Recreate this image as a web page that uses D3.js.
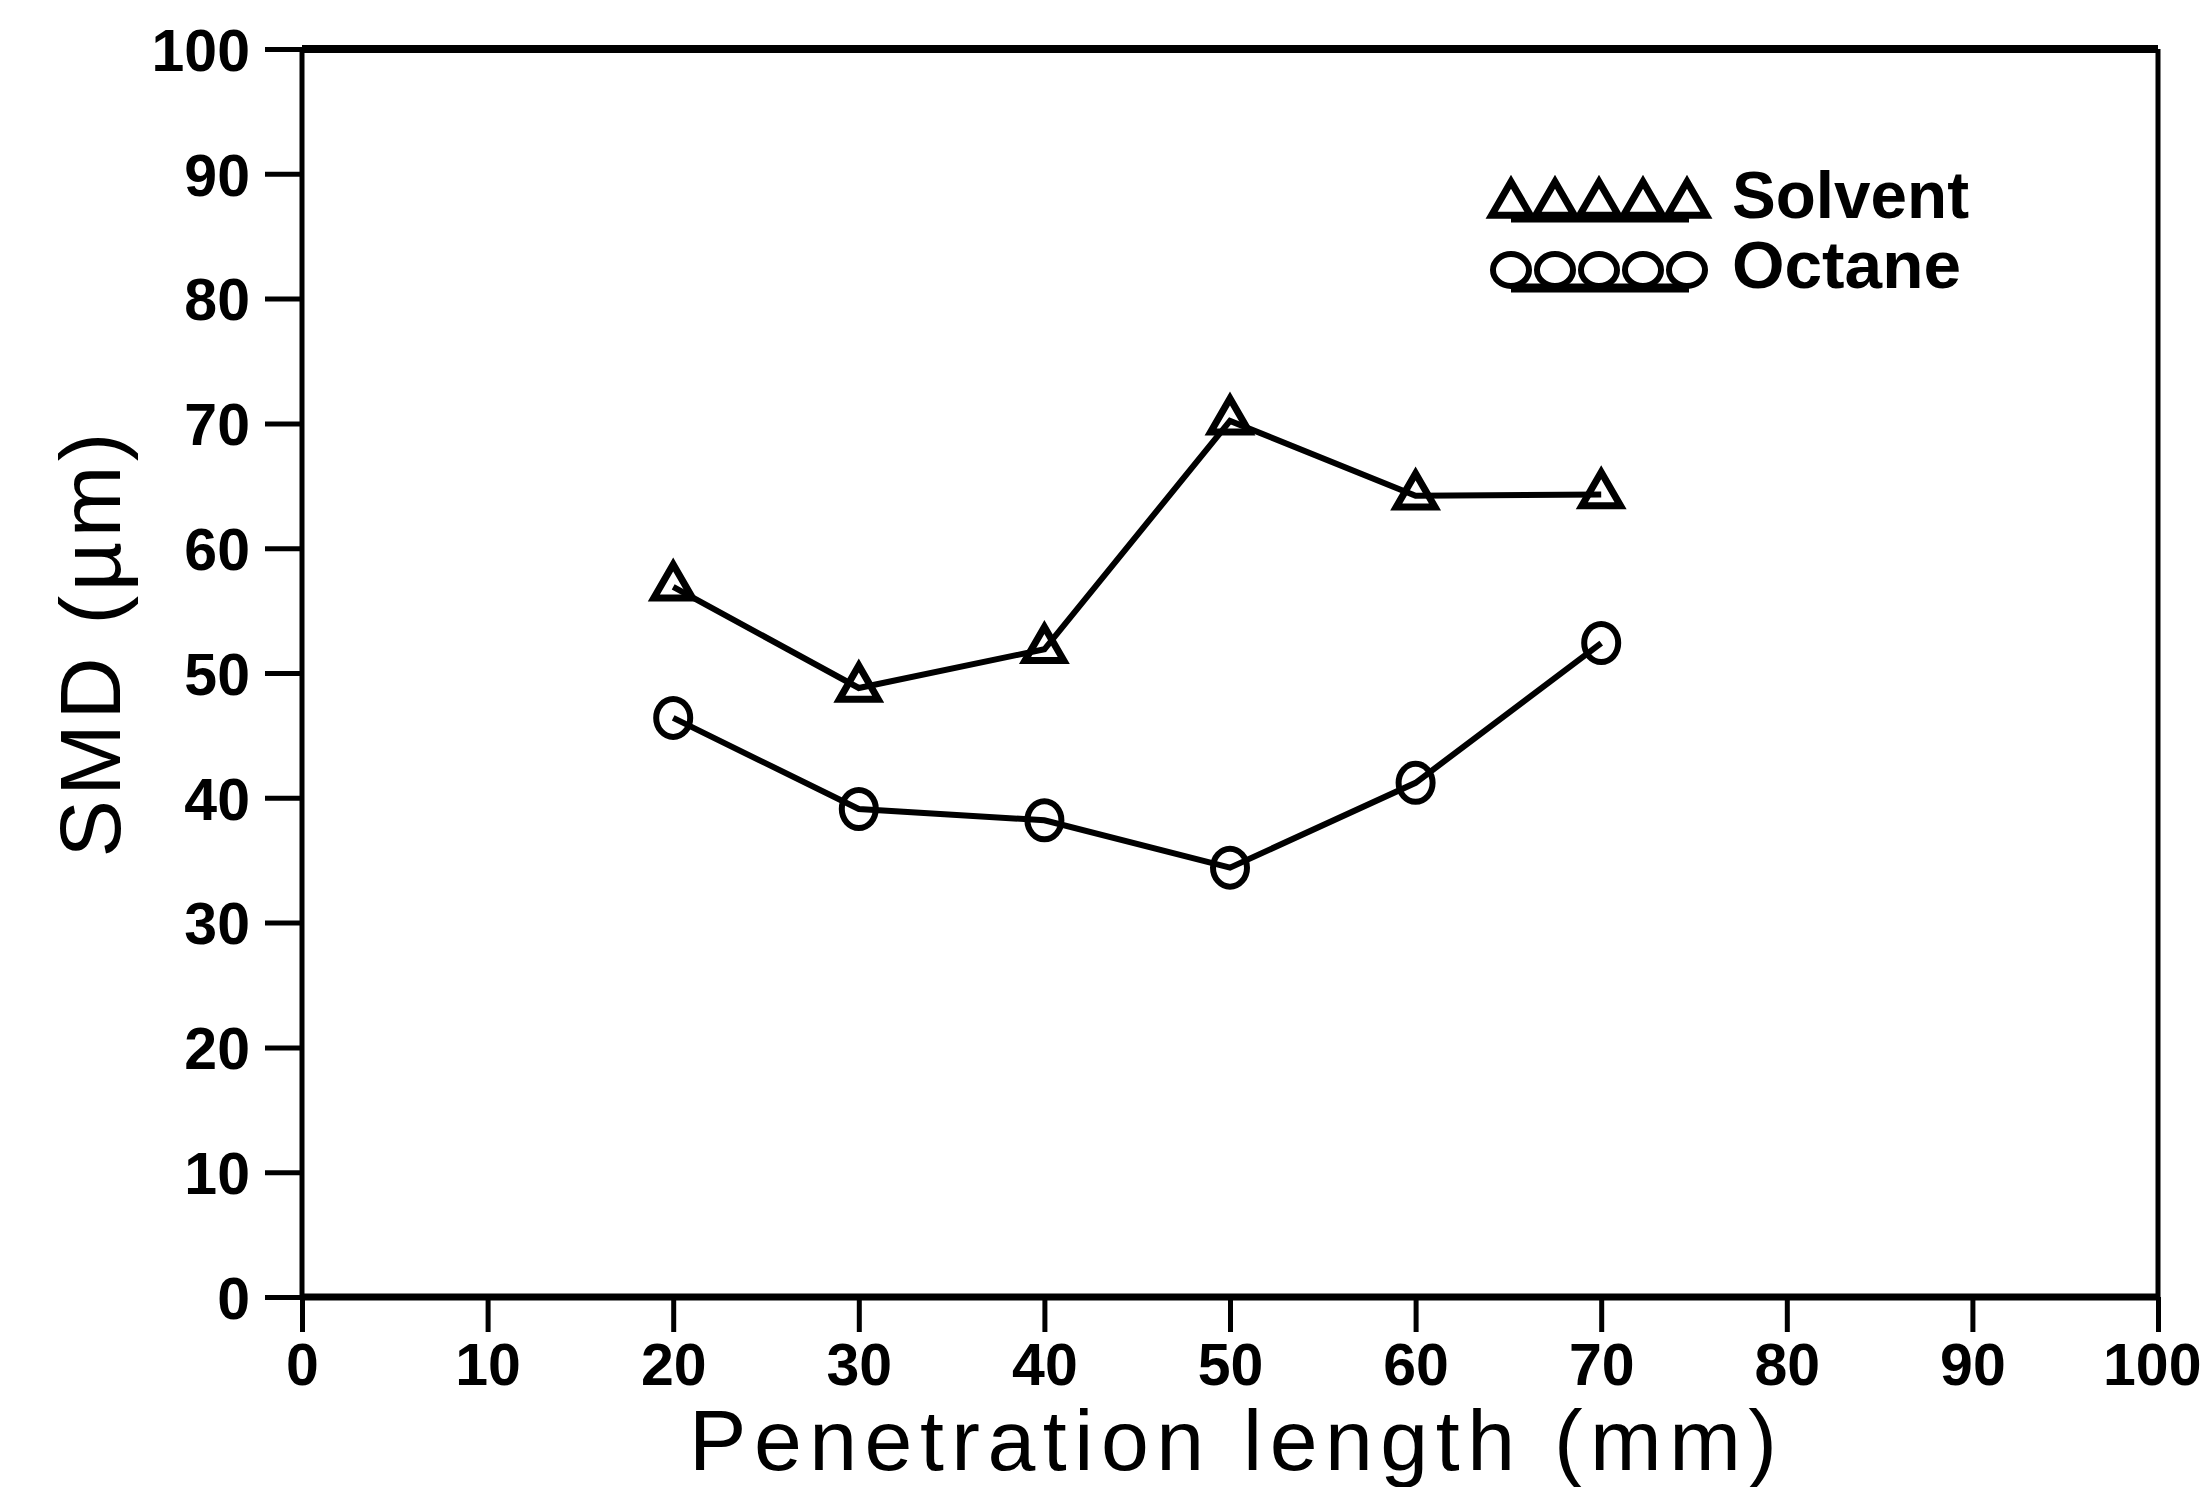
<!DOCTYPE html>
<html lang="en">
<head>
    <meta charset="UTF-8">
    <title>SMD vs penetration length</title>
    <script src="https://cdn.jsdelivr.net/npm/d3@7"></script>
    <style>
        body { margin: 0; background: #fff; }
    </style>
</head>
<body>
    <div id="my_dataviz"></div>
    <script>
        // data
        var penetration = [20, 30, 40, 50, 60, 70];
        var solventSMD = [56.9, 48.8, 51.9, 70.2, 64.2, 64.3];
        var octaneSMD = [46.4, 39.1, 38.2, 34.4, 41.2, 52.4];
        var xTicks = [0, 10, 20, 30, 40, 50, 60, 70, 80, 90, 100];
        var yTicks = [0, 10, 20, 30, 40, 50, 60, 70, 80, 90, 100];
        var seriesNames = ["Solvent", "Octane"];

        var W = 2204, H = 1487;
        var margin = { top: 49, right: 46, bottom: 190, left: 302 },
            width = W - margin.left - margin.right,
            height = H - margin.top - margin.bottom;

        var svg = d3.select("#my_dataviz")
            .append("svg")
            .attr("width", W)
            .attr("height", H)
            .append("g")
            .attr("transform", "translate(" + margin.left + "," + margin.top + ")");

        var x = d3.scaleLinear().domain([0, 100]).range([0, width]);
        var y = d3.scaleLinear().domain([0, 100]).range([height, 0]);

        var tickFont = "'Liberation Sans', Arial, sans-serif";

        // Y axis
        var yAxis = svg.append("g")
            .call(d3.axisLeft(y).tickValues(yTicks).tickSize(37).tickSizeOuter(0).tickPadding(15));
        yAxis.select(".domain").remove();
        yAxis.selectAll("line").attr("stroke", "#000").attr("stroke-width", 5);
        yAxis.selectAll("text")
            .attr("dy", "0.36em")
            .style("font-family", tickFont)
            .style("font-weight", "bold")
            .style("font-size", "59px")
            .attr("fill", "#000");

        // X axis
        var xAxis = svg.append("g")
            .attr("transform", "translate(0," + height + ")")
            .call(d3.axisBottom(x).tickValues(xTicks).tickSize(35).tickSizeOuter(0));
        xAxis.select(".domain").remove();
        xAxis.selectAll("line").attr("stroke", "#000").attr("stroke-width", 5);
        xAxis.selectAll("text")
            .attr("y", 88)
            .attr("dy", 0)
            .style("font-family", tickFont)
            .style("font-weight", "bold")
            .style("font-size", "59px")
            .attr("fill", "#000");
        // last label sits against the page edge, keep it inside
        xAxis.selectAll("text")
            .filter(function (d) { return d == 100; })
            .attr("text-anchor", "end")
            .attr("x", margin.right - 3);

        // frame
        svg.append("line").attr("x1", 0).attr("x2", width).attr("y1", 0).attr("y2", 0)
            .attr("stroke", "#000").attr("stroke-width", 8);
        svg.append("line").attr("x1", 0).attr("x2", width).attr("y1", height).attr("y2", height)
            .attr("stroke", "#000").attr("stroke-width", 7);
        svg.append("line").attr("x1", 0).attr("x2", 0).attr("y1", 0).attr("y2", height)
            .attr("stroke", "#000").attr("stroke-width", 5);
        svg.append("line").attr("x1", width).attr("x2", width).attr("y1", 0).attr("y2", height)
            .attr("stroke", "#000").attr("stroke-width", 5);

        // axis titles
        svg.append("text")
            .attr("x", (689 + 1777) / 2 - margin.left)
            .attr("y", 1470 - margin.top)
            .attr("text-anchor", "middle")
            .attr("textLength", 1088)
            .attr("lengthAdjust", "spacing")
            .style("font-family", tickFont)
            .style("font-size", "86px")
            .text("Penetration length (mm)");

        svg.append("text")
            .attr("transform", "translate(" + (120 - margin.left) + "," + (645 - margin.top) + ") rotate(-90)")
            .attr("text-anchor", "middle")
            .attr("textLength", 425)
            .attr("lengthAdjust", "spacing")
            .style("font-family", tickFont)
            .style("font-size", "86px")
            .text("SMD (µm)");

        var tri = d3.symbol().type(d3.symbolTriangle).size(650);
        var line = d3.line()
            .x(function (d) { return x(d[0]); })
            .y(function (d) { return y(d[1]); });

        function drawSeries(vals, kind) {
            var pts = penetration.map(function (p, i) { return [p, vals[i]]; });
            svg.append("path")
                .datum(pts)
                .attr("d", line)
                .attr("fill", "none")
                .attr("stroke", "#000")
                .attr("stroke-width", 6);
            if (kind == "tri") {
                svg.selectAll(null)
                    .data(pts)
                    .enter()
                    .append("path")
                    .attr("d", tri)
                    .attr("transform", function (d) { return "translate(" + x(d[0]) + "," + y(d[1]) + ")"; })
                    .attr("fill", "none")
                    .attr("stroke", "#000")
                    .attr("stroke-width", 7);
            } else {
                svg.selectAll(null)
                    .data(pts)
                    .enter()
                    .append("ellipse")
                    .attr("cx", function (d) { return x(d[0]); })
                    .attr("cy", function (d) { return y(d[1]); })
                    .attr("rx", 17)
                    .attr("ry", 19)
                    .attr("fill", "none")
                    .attr("stroke", "#000")
                    .attr("stroke-width", 6);
            }
        }

        drawSeries(solventSMD, "tri");
        drawSeries(octaneSMD, "circ");

        // legend
        var legend = svg.append("g").attr("transform", "translate(" + (1511 - margin.left) + ",0)");
        var rows = [
            { name: seriesNames[0], kind: "tri", base: 220 - margin.top, tlen: 237 },
            { name: seriesNames[1], kind: "circ", base: 290 - margin.top, tlen: 229 }
        ];
        rows.forEach(function (r) {
            legend.append("line")
                .attr("x1", 0).attr("x2", 178)
                .attr("y1", r.base - 2).attr("y2", r.base - 2)
                .attr("stroke", "#000").attr("stroke-width", 9);
            d3.range(5).forEach(function (k) {
                var cx = k * 44;
                if (r.kind == "tri") {
                    legend.append("path")
                        .attr("d", tri)
                        .attr("transform", "translate(" + cx + "," + (r.base - 16) + ")")
                        .attr("fill", "none").attr("stroke", "#000").attr("stroke-width", 7);
                } else {
                    legend.append("ellipse")
                        .attr("cx", cx).attr("cy", r.base - 20)
                        .attr("rx", 18).attr("ry", 16)
                        .attr("fill", "none").attr("stroke", "#000").attr("stroke-width", 6);
                }
            });
            legend.append("text")
                .attr("x", 1732 - 1511)
                .attr("y", r.base - 2)
                .attr("textLength", r.tlen)
                .attr("lengthAdjust", "spacingAndGlyphs")
                .style("font-family", tickFont)
                .style("font-weight", "bold")
                .style("font-size", "66px")
                .text(r.name);
        });
    </script>
</body>
</html>
